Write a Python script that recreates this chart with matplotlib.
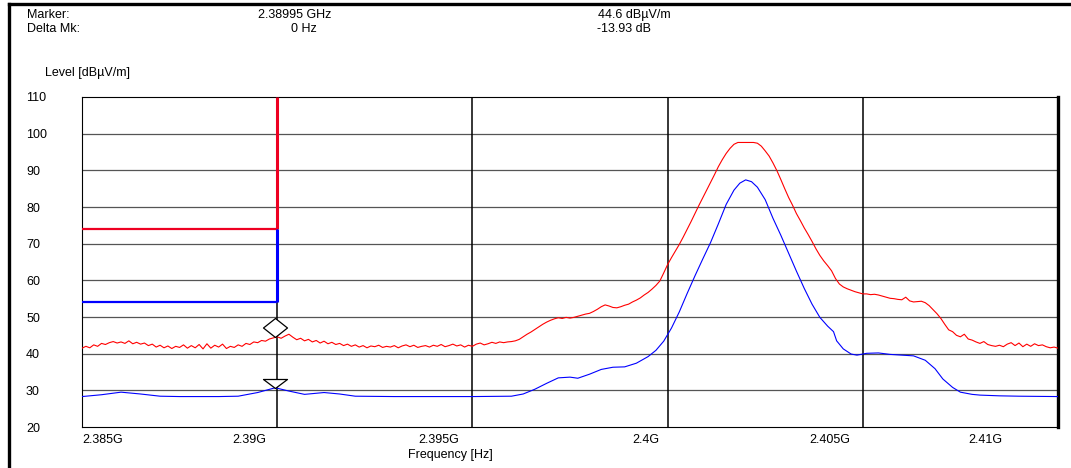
import matplotlib
matplotlib.use("Agg")
import matplotlib.pyplot as plt
import numpy as np
from matplotlib.lines import Line2D
from matplotlib.path import Path

plt.rcParams["font.family"] = ["Liberation Sans", "DejaVu Sans"]
plt.rcParams["font.size"] = 9

# peak trace, 0.1 MHz steps from 2385.0 to 2410.0 MHz
pk_start_mhz = 2385.0
pk_step_mhz = 0.1
pk_level = [
    41.5, 42.0, 41.6, 42.4, 42.0, 42.8, 42.5, 43.0, 43.3, 42.9,
    43.2, 42.8, 43.5, 42.7, 43.1, 42.6, 42.9, 42.2, 42.6, 41.8,
    42.3, 41.6, 42.1, 41.4, 42.0, 41.7, 42.4, 41.5, 42.2, 41.6,
    42.5, 41.3, 42.7, 41.5, 42.3, 41.8, 42.6, 41.4, 42.0, 41.7,
    42.4, 42.0, 42.8, 42.5, 43.2, 43.0, 43.6, 43.4, 44.0, 44.3,
    44.6, 44.2, 44.8, 45.3, 44.5, 43.8, 44.2, 43.5, 43.9, 43.2,
    43.6, 42.9, 43.4, 42.7, 43.1, 42.5, 42.8, 42.2, 42.6, 42.0,
    42.4, 41.8, 42.2, 41.6, 42.1, 41.9, 42.3, 41.7, 42.0, 41.8,
    42.2, 41.6, 42.1, 42.4, 41.9, 42.3, 41.7, 42.0, 42.2, 41.8,
    42.3, 42.0, 42.5, 41.9, 42.2, 42.6, 42.1, 42.4, 41.8, 42.3,
    42.0, 42.6, 42.9, 42.4, 42.7, 43.1, 42.8, 43.2, 43.0, 43.2,
    43.3, 43.5, 43.9, 44.6, 45.3, 45.9, 46.6, 47.3, 48.0, 48.6,
    49.1, 49.5, 49.8, 49.6, 49.9, 49.7, 49.9, 50.2, 50.5, 50.8,
    51.0, 51.5, 52.1, 52.8, 53.3, 53.0, 52.6, 52.5, 52.8, 53.2,
    53.5, 54.1, 54.6, 55.2, 56.0, 56.7, 57.6, 58.6, 59.8, 62.0,
    64.3, 66.2, 68.0, 69.8, 71.8, 73.9, 76.0, 78.2, 80.4, 82.5,
    84.6, 86.7, 88.8, 91.0, 92.9, 94.6, 96.0, 97.1, 97.6, 97.6,
    97.6, 97.6, 97.6, 97.4, 96.6, 95.3, 93.9, 92.0, 89.9, 87.5,
    85.0, 82.6, 80.5, 78.2, 76.3, 74.3, 72.5, 70.6, 68.6, 66.8,
    65.3, 64.0, 62.6, 60.5, 59.0, 58.2, 57.7, 57.3, 56.9, 56.6,
    56.3, 56.3, 56.1, 56.2, 56.0, 55.7, 55.4, 55.1, 55.0, 54.8,
    54.7, 55.4, 54.4, 54.1, 54.2, 54.3, 53.9, 53.1, 52.0, 50.9,
    49.6, 48.0, 46.5, 46.0, 45.0, 44.6, 45.3, 44.0, 43.7, 43.2,
    42.8, 43.3, 42.5, 42.2, 42.0, 42.3, 41.9, 42.6, 43.0, 42.2,
    42.9, 41.9, 42.6, 42.0, 42.7, 42.2, 42.4, 41.9, 41.6, 41.8,
    41.5,
]

# average trace
av_mhz = [
    2385.0, 2385.5, 2386.0, 2386.5, 2387.0, 2387.5, 2388.0, 2388.5, 2389.0,
    2389.5, 2389.95, 2390.3, 2390.7, 2391.2, 2391.6, 2392.0, 2393.0, 2394.0,
    2395.0, 2396.0, 2396.3, 2396.6, 2396.9, 2397.2, 2397.5, 2397.7, 2398.0,
    2398.3, 2398.6, 2398.9, 2399.2, 2399.5, 2399.7, 2399.9, 2400.1, 2400.3,
    2400.5, 2400.7, 2400.9, 2401.1, 2401.3, 2401.5, 2401.7, 2401.85, 2402.0,
    2402.15, 2402.3, 2402.5, 2402.7, 2402.9, 2403.1, 2403.3, 2403.5, 2403.7,
    2403.9, 2404.1, 2404.25, 2404.33, 2404.5, 2404.7, 2404.85, 2405.1, 2405.4,
    2405.7, 2406.0, 2406.3, 2406.6, 2406.85, 2407.05, 2407.3, 2407.5, 2407.8,
    2408.0, 2408.5, 2409.0, 2410.0,
]
av_level = [
    28.3, 28.8, 29.5, 29.0, 28.4, 28.3, 28.3, 28.3, 28.4,
    29.4, 30.7, 29.8, 28.9, 29.4, 29.0, 28.4, 28.3, 28.3,
    28.3, 28.4, 29.0, 30.3, 31.9, 33.4, 33.6, 33.3, 34.4,
    35.7, 36.3, 36.4, 37.4, 39.2, 40.9, 43.4, 47.0, 51.4,
    56.4, 61.2, 65.8, 70.3, 75.4, 80.7, 84.6, 86.5, 87.4,
    86.9, 85.4, 82.0, 76.9, 72.3, 67.4, 62.5, 57.8, 53.5,
    49.9, 47.5, 46.0, 43.5, 41.3, 39.9, 39.6, 40.1, 40.2,
    39.8, 39.6, 39.4, 38.2, 35.9, 33.1, 30.8, 29.5, 28.9,
    28.7, 28.5, 28.4, 28.3,
]

# restricted band limit lines (peak / average)
limit_edge_mhz = 2390.0
limit_pk = 74.0
limit_av = 54.0

marker_mhz = 2389.95
marker_level = 44.6
delta_db = -13.93

grid_mhz = [2390, 2395, 2400, 2405]
ytick_vals = list(range(20, 111, 10))
xlabel_mhz = [2385.525, 2389.278, 2394.144, 2399.434, 2404.147, 2408.143]
xlabel_txt = ["2.385G", "2.39G", "2.395G", "2.4G", "2.405G", "2.41G"]

W, H = 1071, 468
fig = plt.figure(figsize=(W / 100, H / 100), dpi=100)
ax = fig.add_axes([82 / W, 1 - 427 / H, (1058 - 82) / W, (427 - 97) / H])
ax.set_xlim(2385.0e6, 2410.0e6)
ax.set_ylim(20, 110)

for y in ytick_vals[1:-1]:
    ax.axhline(y, color="#555555", lw=0.9, zorder=1)
for f in grid_mhz:
    ax.axvline(f * 1e6, color="black", lw=1.1, zorder=1)

pk_mhz = pk_start_mhz + pk_step_mhz * np.arange(len(pk_level))
ax.plot(pk_mhz * 1e6, pk_level, color="#ff0000", lw=0.8, zorder=3)
ax.plot(np.array(av_mhz) * 1e6, av_level, color="#0000ff", lw=0.8, zorder=3)

x0 = 2385.0e6
xe = limit_edge_mhz * 1e6
ax.plot([x0, xe], [limit_pk, limit_pk], color="#ee0022", lw=1.6, zorder=4,
        solid_capstyle="butt")
ax.plot([xe, xe], [limit_pk, 110], color="#ee0022", lw=2.2, zorder=4,
        solid_capstyle="butt")
ax.plot([x0, xe], [limit_av, limit_av], color="#0000ff", lw=1.6, zorder=4,
        solid_capstyle="butt")
ax.plot([xe, xe], [limit_av, limit_pk], color="#0000ff", lw=2.2, zorder=4,
        solid_capstyle="butt")

# markers: tip of each symbol sits on the trace value
diamond = Path([(0, 0), (12, 9.5), (0, 19), (-12, 9.5), (0, 0)],
               [Path.MOVETO, Path.LINETO, Path.LINETO, Path.LINETO, Path.CLOSEPOLY])
tri = Path([(0, 0), (12, 9), (-12, 9), (0, 0)],
           [Path.MOVETO, Path.LINETO, Path.LINETO, Path.CLOSEPOLY])
ax.plot([marker_mhz * 1e6], [marker_level], marker=diamond, ms=38 * 0.72,
        mfc="white", mec="black", mew=0.9, zorder=5)
ax.plot([marker_mhz * 1e6], [marker_level + delta_db], marker=tri, ms=24 * 0.72,
        mfc="white", mec="black", mew=0.9, zorder=5)

for side in ["left", "top", "bottom"]:
    ax.spines[side].set_linewidth(0.8)
ax.spines["right"].set_linewidth(2.4)

ax.set_yticks(ytick_vals)
ax.set_yticklabels([str(v) for v in ytick_vals], ha="left")
ax.tick_params(axis="y", length=0, pad=40.3)
ax.set_xticks([f * 1e6 for f in xlabel_mhz])
ax.set_xticklabels(xlabel_txt)
ax.tick_params(axis="x", length=0, pad=5)

fig.text(450 / W, 1 - 455 / H, "Frequency [Hz]", ha="center", va="center")
fig.text(45 / W, 1 - 73 / H, "Level [dBµV/m]", ha="left", va="center")

fig.text(27 / W, 1 - 15 / H, "Marker:", ha="left", va="center")
fig.text(27 / W, 1 - 29 / H, "Delta Mk:", ha="left", va="center")
fig.text(295 / W, 1 - 15 / H, f"{marker_mhz / 1000:.5f} GHz", ha="center", va="center")
fig.text(304 / W, 1 - 29 / H, "0 Hz", ha="center", va="center")
fig.text(598 / W, 1 - 15 / H, f"{marker_level:.1f} dBµV/m", ha="left", va="center")
fig.text(597 / W, 1 - 29 / H, f"{delta_db:.2f} dB", ha="left", va="center")

# page frame (top and left edges)
fig.add_artist(Line2D([9 / W, 1.0], [1 - 4 / H, 1 - 4 / H], color="black", lw=2.4,
                      transform=fig.transFigure))
fig.add_artist(Line2D([9 / W, 9 / W], [0.0, 1 - 4 / H], color="black", lw=2.4,
                      transform=fig.transFigure))

fig.savefig("out.png", dpi=100)
